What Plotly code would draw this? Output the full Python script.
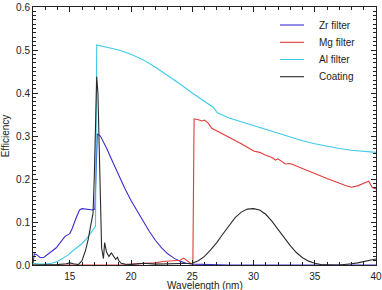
import plotly.graph_objects as go

# Zr filter
zr_x = [12.0, 12.1, 12.3, 12.6, 12.9, 13.3, 13.9, 14.3, 14.6, 15.0, 15.2, 15.5, 15.8, 16.0, 16.3, 16.6, 16.9, 17.05,
        17.25, 17.5, 18.0, 18.5, 19.0, 19.5, 20.0, 20.5, 21.0, 21.5, 22.0, 22.5, 23.0, 23.5, 24.0, 24.5, 25.0, 26.0,
        28.0, 30.0, 32.0, 34.0, 36.0, 38.0, 40.0]
zr_y = [0.002, 0.026, 0.024, 0.017, 0.018, 0.026, 0.040, 0.055, 0.066, 0.073, 0.085, 0.108, 0.128, 0.131, 0.130,
        0.129, 0.128, 0.130,
        0.305, 0.300, 0.272, 0.240, 0.208, 0.178, 0.150, 0.125, 0.100, 0.078, 0.057, 0.040, 0.026, 0.016, 0.009, 0.004,
        0.002, 0.001, 0.0, 0.0, 0.0, 0.0, 0.0, 0.0, 0.0]

# Mg filter
mg_x = [12.0, 14.0, 16.0, 18.0, 19.5, 20.0, 21.0, 22.0, 22.6, 23.2, 23.7, 24.0, 24.3, 24.6, 24.9, 25.05, 25.15, 25.5,
        25.8, 26.0, 26.3, 26.6, 27.0, 27.5, 28.0, 28.5, 29.0, 29.5, 30.0, 30.5, 31.0, 31.5, 31.8, 32.0, 32.3, 32.6,
        33.0, 33.5, 34.0, 34.5, 35.0, 35.5, 36.0, 36.5, 37.0, 37.5, 38.0, 38.5, 39.0, 39.4, 39.7, 40.0]
mg_y = [0.0, 0.0, 0.0, 0.0, 0.0, 0.002, 0.004, 0.005, 0.008, 0.009, 0.010, 0.011, 0.016, 0.009, 0.003, 0.002, 0.340,
        0.338, 0.335, 0.337, 0.330, 0.318, 0.312, 0.306, 0.298, 0.291, 0.282, 0.274, 0.265, 0.262, 0.255, 0.250,
        0.244, 0.247, 0.240, 0.235, 0.236, 0.230, 0.225, 0.219, 0.213, 0.207, 0.201, 0.196, 0.190, 0.185, 0.181,
        0.184, 0.190, 0.195, 0.180, 0.177]

# Al filter
al_x = [12.0, 12.5, 13.0, 13.5, 14.0, 14.5, 14.85, 15.2, 15.6, 16.0, 16.4, 16.9, 17.1, 17.2, 18.0, 19.0, 20.0, 21.0,
        22.0, 23.0, 24.0, 25.0, 26.0, 26.7, 27.05, 28.0, 29.0, 30.0, 31.0, 32.0, 33.0, 34.0, 35.0, 36.0, 37.0,
        38.0, 39.0, 40.0]
al_y = [0.004, 0.002, 0.002, 0.004, 0.008, 0.016, 0.023, 0.032, 0.040, 0.050, 0.062, 0.082, 0.090, 0.512, 0.507,
        0.500, 0.490, 0.477, 0.460, 0.441, 0.421, 0.400, 0.381, 0.367, 0.354, 0.342, 0.333, 0.324, 0.315, 0.306,
        0.297, 0.289, 0.282, 0.276, 0.271, 0.267, 0.264, 0.262]

# Coating
co_x = [12.0, 13.0, 14.0, 14.7, 15.0, 15.3, 15.7, 16.0, 16.3, 16.5, 16.7, 16.9, 17.0, 17.1, 17.2, 17.3, 17.45, 17.6,
        17.75, 17.85, 18.0, 18.2, 18.4, 18.6, 18.75, 18.9, 19.0, 19.2, 19.5, 20.0, 21.0, 22.0, 23.0, 24.0, 25.0,
        25.5, 26.0, 26.5, 27.0, 27.5, 28.0, 28.5, 29.0, 29.5, 30.0, 30.5, 31.0, 31.5, 32.0, 32.5, 33.0, 33.5,
        34.0, 34.5, 35.0, 35.5, 36.0, 36.5, 37.0, 37.5, 38.0, 38.5, 39.0, 39.5, 40.0]
co_y = [0.0, 0.0, 0.001, 0.003, 0.005, 0.003, 0.001, 0.010, 0.035, 0.059, 0.090, 0.120, 0.200, 0.330, 0.438, 0.400,
        0.200, 0.040, 0.015, 0.052, 0.030, 0.020, 0.028, 0.018, 0.013, 0.018, 0.010, 0.004, 0.002, 0.001, 0.004,
        0.002, 0.003, 0.003, 0.004, 0.010, 0.020, 0.035, 0.052, 0.072, 0.092, 0.110, 0.123, 0.130, 0.131, 0.128,
        0.118, 0.102, 0.083, 0.063, 0.045, 0.029, 0.017, 0.009, 0.004, 0.001, 0.0, 0.0, 0.0, 0.001, 0.003, 0.005,
        0.008, 0.011, 0.014]

series_names = ["Zr filter", "Mg filter", "Al filter", "Coating"]
series_x = [zr_x, mg_x, al_x, co_x]
series_y = [zr_y, mg_y, al_y, co_y]
series_colors = ["#3b2fcf", "#e23a3a", "#3fc9ea", "#2a2a2a"]

FONT = "Liberation Sans, Arial, sans-serif"
INK = "#222"

fig = go.Figure()
for name, xs, ys, col in zip(series_names, series_x, series_y, series_colors):
    fig.add_trace(go.Scatter(x=xs, y=ys, mode="lines", name=name,
                             line=dict(color=col, width=1.1), showlegend=False))

# Plot area: x 33..376, y 7..265 (px)
TOP, BOT = 7, 265
W, H = 343.0, float(BOT - TOP)
leg_x0, leg_x1, leg_tx = (280 - 33) / W, (304 - 33) / W, (317 - 33) / W
leg_y = [(BOT - py) / H for py in (25, 42.3, 59.5, 76.7)]
for name, col, yy in zip(series_names, series_colors, leg_y):
    fig.add_shape(type="line", xref="paper", yref="paper", x0=leg_x0, x1=leg_x1, y0=yy, y1=yy,
                  line=dict(color=col, width=1.1))
    fig.add_annotation(xref="paper", yref="paper", x=leg_tx, y=yy, text=name, showarrow=False,
                       xanchor="left", yanchor="middle",
                       font=dict(family=FONT, size=10, color=INK))

# x-axis title placed just below the tick labels (slightly cut by the bottom edge, as in the original)
fig.add_annotation(xref="paper", yref="paper", x=0.5, y=(BOT - 285.5) / H, text="Wavelength (nm)",
                   showarrow=False, xanchor="center", yanchor="middle",
                   font=dict(family=FONT, size=10, color=INK))

axis_common = dict(
    showline=True, linecolor=INK, linewidth=1, mirror="allticks",
    ticks="inside", ticklen=5, tickcolor=INK, tickwidth=1,
    showgrid=False, zeroline=False,
    tickfont=dict(family=FONT, size=10, color=INK),
)

fig.update_xaxes(range=[12, 40], tickvals=[15, 20, 25, 30, 35, 40], ticklabelstandoff=2,
                 minor=dict(dtick=1, tick0=12, ticks="inside", ticklen=3, tickcolor=INK),
                 **axis_common)
fig.update_yaxes(range=[0, 0.6], tickvals=[0, 0.1, 0.2, 0.3, 0.4, 0.5, 0.6], tickformat=".1f",
                 minor=dict(dtick=0.01, tick0=0, ticks="inside", ticklen=3, tickcolor=INK),
                 title=dict(text="Efficiency", standoff=5,
                            font=dict(family=FONT, size=10, color=INK)),
                 **axis_common)

fig.update_layout(
    width=382, height=290,
    margin=dict(l=33, r=6, t=TOP, b=290 - BOT, autoexpand=False),
    paper_bgcolor="white", plot_bgcolor="white",
    showlegend=False,
)

fig.write_html("out.html")
